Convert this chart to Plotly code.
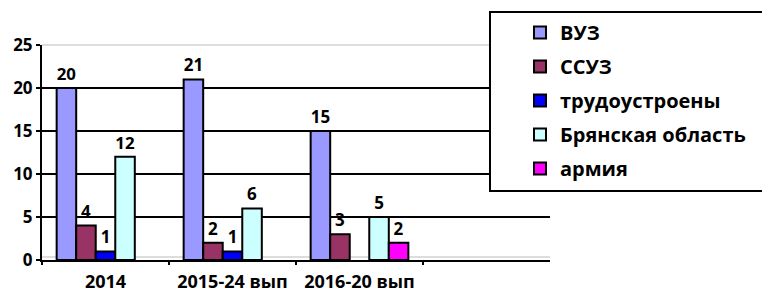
import plotly.graph_objects as go

categories = ["2014", "2015-24 вып", "2016-20 вып"]
series_names = ["ВУЗ", "ССУЗ", "трудоустроены", "Брянская область", "армия"]
vuz = [20, 21, 15]
ssuz = [4, 2, 3]
trud = [1, 1, None]
bryansk = [12, 6, 5]
army = [None, None, 2]
series_values = [vuz, ssuz, trud, bryansk, army]
colors = ["#9999FF", "#993366", "#0000FF", "#CCFFFF", "#FF00FF"]
y_ticks = [0, 5, 10, 15, 20, 25]
grid_ticks = [5, 10, 15, 20]

FONT = "Open Sans"
# page body has an 8px margin, so the figure is drawn 8px in and is 8px smaller
OFF = 8
W, H = 770 - OFF, 293 - OFF
ML = 42 - OFF
MR = W - (550 - OFF)
MT = 10 - OFF
MB = H - (260 - OFF)
PH = H - MT - MB
PW = W - ML - MR
AX_TOP = 45  # reference pixel of y=25

fig = go.Figure()
for i, (name, vals, col) in enumerate(zip(series_names, series_values, colors)):
    fig.add_trace(go.Bar(
        x=categories, y=vals, name=name, legendgroup=name,
        marker=dict(color=col, line=dict(color="black", width=2)),
        text=[("" if v is None else str(v)) for v in vals],
        textposition="outside", cliponaxis=False,
        textfont=dict(family=FONT, size=17, color="black", weight="bold"),
    ))

def px2x(px):
    return (px - OFF - ML) / PW
def py2y(py):
    return (H - MB - (py - OFF)) / PH

ydom = [0, py2y(AX_TOP)]

fig.update_layout(
    width=W, height=H,
    margin=dict(l=ML, r=MR, t=MT, b=MB, autoexpand=False),
    paper_bgcolor="white", plot_bgcolor="white",
    barmode="group", bargap=1.5 / 6.5, bargroupgap=0,
    font=dict(family=FONT, size=17, color="black", weight="bold"),
    xaxis=dict(
        type="category", categoryorder="array", categoryarray=categories,
        range=[-0.5, 3.5], tickson="boundaries", ticks="outside", ticklen=3,
        tickwidth=2, tickcolor="black", showline=True, linecolor="black",
        linewidth=2, showgrid=False, ticklabelstandoff=4, automargin=False,
        tickfont=dict(family=FONT, size=18, weight="bold"),
    ),
    yaxis=dict(
        domain=ydom, range=[0, 25], tickvals=y_ticks, ticks="outside", ticklen=4,
        tickwidth=2, tickcolor="black", showline=True, linecolor="black",
        linewidth=2, showgrid=False, zeroline=False, automargin=False,
        tickfont=dict(family=FONT, size=17, weight="bold"),
    ),
    yaxis2=dict(
        overlaying="y", range=[0, 25], tickvals=grid_ticks, showgrid=True,
        gridcolor="black", gridwidth=2, showticklabels=False, ticks="",
        zeroline=False, showline=False,
    ),
    legend=dict(
        xref="container", yref="paper",
        x=(520 - OFF) / W, xanchor="left", y=py2y(13), yanchor="top",
        bgcolor="rgba(0,0,0,0)", borderwidth=0, tracegroupgap=5,
        font=dict(family=FONT, size=20, color="black", weight="bold"),
        traceorder="grouped",
    ),
    showlegend=True,
    shapes=[
        dict(type="line", xref="paper", yref="paper", x0=0, x1=1,
             y0=py2y(AX_TOP), y1=py2y(AX_TOP),
             line=dict(color="#BBBBBB", width=1), layer="below"),
        dict(type="line", xref="paper", yref="paper", x0=0, x1=1,
             y0=py2y(257), y1=py2y(257),
             line=dict(color="#BBBBBB", width=1), layer="below"),
        dict(type="rect", xref="paper", yref="paper",
             x0=px2x(490), x1=px2x(800), y0=py2y(191), y1=py2y(12),
             fillcolor="white", line=dict(color="black", width=2), layer="above"),
    ],
)
fig.add_trace(go.Scatter(x=[categories[0]], y=[None], yaxis="y2", showlegend=False,
                         hoverinfo="skip"))

fig.write_html("out.html")
